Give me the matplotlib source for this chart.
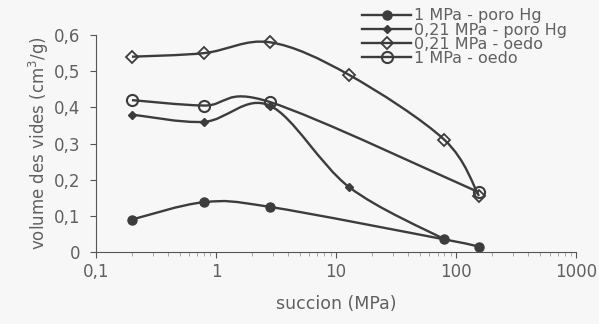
import matplotlib.pyplot as plt
import numpy as np
from matplotlib.path import Path
from matplotlib.patches import PathPatch
from matplotlib.ticker import FuncFormatter

# succion (MPa) and volume des vides (cm3/g)
x_hg1 = [0.2, 0.8, 2.8, 80, 155]
y_hg1 = [0.09, 0.138, 0.125, 0.035, 0.015]

x_hg021 = [0.2, 0.8, 2.8, 12.8, 80]
y_hg021 = [0.38, 0.36, 0.405, 0.18, 0.035]

x_oe021 = [0.2, 0.8, 2.8, 12.8, 80, 155]
y_oe021 = [0.54, 0.55, 0.58, 0.49, 0.31, 0.155]

x_oe1 = [0.2, 0.8, 2.8, 155]
y_oe1 = [0.42, 0.405, 0.415, 0.165]

labels = ['1 MPa - poro Hg', '0,21 MPa - poro Hg', '0,21 MPa - oedo', '1 MPa - oedo']

col = '#3c3c3c'
txt = '#606060'


def smooth_path(xs, ys):
    # Excel-like smoothed line: cubic bezier through the points (log x space)
    lx = np.log10(xs)
    ys = np.asarray(ys, float)
    n = len(lx)
    verts = [(xs[0], ys[0])]
    codes = [Path.MOVETO]
    for i in range(n - 1):
        p0 = (lx[max(i - 1, 0)], ys[max(i - 1, 0)])
        p1 = (lx[i], ys[i])
        p2 = (lx[i + 1], ys[i + 1])
        p3 = (lx[min(i + 2, n - 1)], ys[min(i + 2, n - 1)])
        c1 = (p1[0] + (p2[0] - p0[0]) / 6, p1[1] + (p2[1] - p0[1]) / 6)
        c2 = (p2[0] - (p3[0] - p1[0]) / 6, p2[1] - (p3[1] - p1[1]) / 6)
        for c in (c1, c2, p2):
            verts.append((10 ** c[0], c[1]))
            codes.append(Path.CURVE4)
    return Path(verts, codes)


fig = plt.figure(figsize=(5.99, 3.24), dpi=100)
fig.patch.set_facecolor('#f7f7f7')
ax = fig.add_axes([0.16, 0.222, 0.802, 0.67])
ax.set_facecolor('#f7f7f7')
ax.set_xscale('log')

series = [
    (x_hg1, y_hg1, dict(marker='o', ms=6.5, mfc=col, mec=col)),
    (x_hg021, y_hg021, dict(marker='D', ms=4.5, mfc=col, mec=col)),
    (x_oe021, y_oe021, dict(marker='D', ms=6, mfc='none', mec=col, mew=1.3)),
    (x_oe1, y_oe1, dict(marker='o', ms=8, mfc='none', mec=col, mew=1.5)),
]
handles = []
for (xs, ys, st), lab in zip(series, labels):
    ax.add_patch(PathPatch(smooth_path(xs, ys), fill=False, ec=col, lw=1.7))
    ax.plot(xs, ys, ls='none', **st)
    h, = ax.plot([], [], color=col, lw=1.7, label=lab, **st)
    handles.append(h)

ax.set_xlim(0.1, 1000)
ax.set_ylim(0, 0.6)
ax.set_yticks(np.arange(0, 0.61, 0.1))
fmt = FuncFormatter(lambda v, p: ('%g' % round(v, 2)).replace('.', ','))
ax.yaxis.set_major_formatter(fmt)
ax.xaxis.set_major_formatter(fmt)
for s in ('top', 'right'):
    ax.spines[s].set_visible(False)
for s in ('left', 'bottom'):
    ax.spines[s].set_color('#555555')
ax.tick_params(axis='y', colors='#555555', labelcolor=txt, labelsize=12, length=4, pad=7)
ax.tick_params(axis='x', which='major', colors='#555555', labelcolor=txt,
               labelsize=12, length=4, pad=4)
ax.tick_params(axis='x', which='minor', colors='#9a9a9a', length=3)
ax.set_xlabel('succion (MPa)', color=txt, fontsize=12.5, labelpad=10)
ax.set_ylabel('volume des vides (cm$^3$/g)', color=txt, fontsize=12, labelpad=2)

leg = fig.legend(handles=handles, loc='upper left', bbox_to_anchor=(0.604, 0.974),
                 frameon=False, fontsize=11.5, handlelength=3.1, labelspacing=-0.05,
                 handletextpad=0.15, borderaxespad=0, borderpad=0)
for t in leg.get_texts():
    t.set_color(txt)

fig.savefig('out.png', dpi=100, facecolor=fig.get_facecolor())
